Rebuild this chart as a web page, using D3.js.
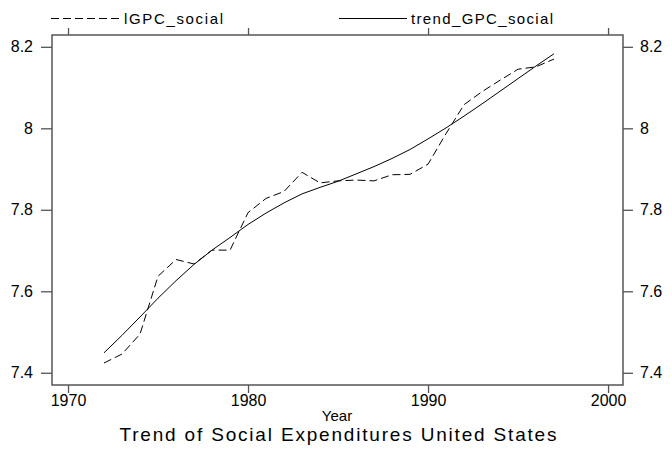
<!DOCTYPE html>
<html>
<head>
<meta charset="utf-8">
<script src="https://cdn.jsdelivr.net/npm/d3@7"></script>
<style>
  html, body { margin: 0; padding: 0; background: #fff; }
  svg { display: block; }
  text { font-family: "Liberation Sans", Arial, sans-serif; fill: #000; }
</style>
</head>
<body>
<svg id="chart" width="672" height="451"></svg>
<script>
// ---- data ----
const years = [1972,1973,1974,1975,1976,1977,1978,1979,1980,1981,1982,1983,1984,1985,1986,1987,1988,1989,1990,1991,1992,1993,1994,1995,1996,1997];
const lgpcSocial = [7.424,7.446,7.495,7.637,7.678,7.667,7.701,7.701,7.793,7.828,7.845,7.892,7.866,7.871,7.873,7.871,7.886,7.887,7.912,7.987,8.058,8.090,8.118,8.145,8.151,8.170];
const trendSocial = [7.449,7.492,7.537,7.583,7.626,7.666,7.701,7.732,7.764,7.792,7.817,7.839,7.855,7.870,7.888,7.906,7.926,7.948,7.974,8.001,8.030,8.060,8.091,8.122,8.153,8.183];
const xTicks = [1970,1980,1990,2000];
const yTicks = [7.4,7.6,7.8,8,8.2];
const legendLabels = ["lGPC_social","trend_GPC_social"];
const xTitle = "Year";
const chartTitle = "Trend of Social Expenditures United States";

// ---- layout ----
const L = 52, R = 623, T = 35, B = 385;
const svg = d3.select("#chart");
const x = d3.scaleLinear().domain([1969.11, 2000.83]).range([L, R]);
const y = d3.scaleLinear().domain([7.37, 8.229]).range([B, T]);
const frameColor = "#555";
const fmt = d => String(+d.toFixed(1));

// axes
const gB = svg.append("g").attr("transform", `translate(0,${B})`)
  .call(d3.axisBottom(x).tickValues(xTicks).tickFormat(d3.format("d")).tickSize(8).tickSizeOuter(0));
const gT = svg.append("g").attr("transform", `translate(0,${T})`)
  .call(d3.axisTop(x).tickValues(xTicks).tickFormat("").tickSize(7).tickSizeOuter(0));
const gL = svg.append("g").attr("transform", `translate(${L},0)`)
  .call(d3.axisLeft(y).tickValues(yTicks).tickFormat(fmt).tickSize(11).tickPadding(8).tickSizeOuter(0));
const gR = svg.append("g").attr("transform", `translate(${R},0)`)
  .call(d3.axisRight(y).tickValues(yTicks).tickFormat(fmt).tickSize(10).tickPadding(7).tickSizeOuter(0));

[gB, gT, gL, gR].forEach(g => {
  g.select(".domain").remove();
  g.selectAll(".tick line").attr("stroke", frameColor).attr("stroke-width", 1.3);
  g.selectAll("text").attr("font-size", 16).attr("font-family", "Liberation Sans, Arial, sans-serif").attr("fill", "#000");
});
gB.selectAll("text").attr("y", 10).attr("dy", "0.71em");

// frame
svg.append("rect").attr("x", L).attr("y", T).attr("width", R - L).attr("height", B - T)
  .attr("fill", "none").attr("stroke", frameColor).attr("stroke-width", 1.5);

// lines
const line = vals => d3.line().x((d, i) => x(years[i])).y(d => y(d))(vals);
svg.append("path").attr("d", line(lgpcSocial)).attr("fill", "none")
  .attr("stroke", "#000").attr("stroke-width", 1).attr("stroke-dasharray", "8,4");
svg.append("path").attr("d", line(trendSocial)).attr("fill", "none")
  .attr("stroke", "#000").attr("stroke-width", 1);

// legend
const leg = svg.append("g");
leg.append("line").attr("x1", 51).attr("x2", 122).attr("y1", 18.5).attr("y2", 18.5)
  .attr("stroke", "#000").attr("stroke-width", 1).attr("stroke-dasharray", "8,4");
leg.append("text").attr("x", 124).attr("y", 23.5).attr("font-size", 15)
  .attr("textLength", 99).attr("lengthAdjust", "spacing").text(legendLabels[0]);
leg.append("line").attr("x1", 339).attr("x2", 407).attr("y1", 18.5).attr("y2", 18.5)
  .attr("stroke", "#000").attr("stroke-width", 1);
leg.append("text").attr("x", 411).attr("y", 23.5).attr("font-size", 15)
  .attr("textLength", 142).attr("lengthAdjust", "spacing").text(legendLabels[1]);

// axis title and chart title
svg.append("text").attr("x", 337).attr("y", 421).attr("text-anchor", "middle")
  .attr("font-size", 15).text(xTitle);
svg.append("text").attr("x", 338).attr("y", 441).attr("text-anchor", "middle")
  .attr("font-size", 19).attr("textLength", 437).attr("lengthAdjust", "spacing").text(chartTitle);
</script>
</body>
</html>
